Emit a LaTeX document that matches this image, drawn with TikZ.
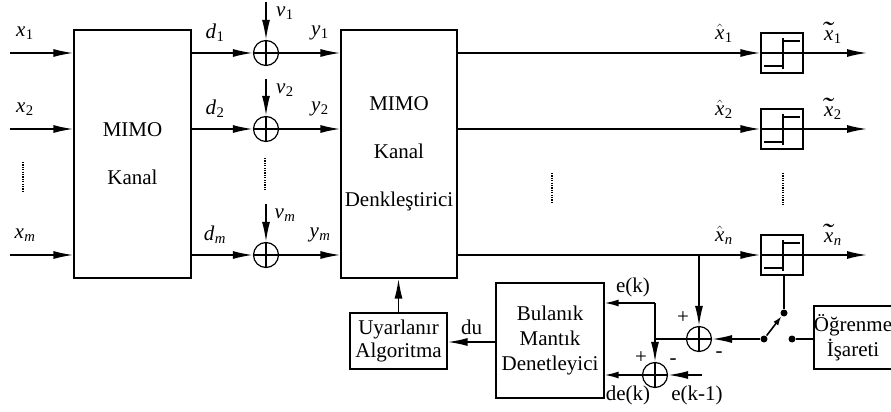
\documentclass[tikz,border=0pt]{standalone}
\usepackage{fontspec}
\setmainfont{Liberation Serif}
\usetikzlibrary{arrows.meta,calc}
\newcommand{\sinyal}[2]{#1\kern0.5pt\textsubscript{#2}}
\newcommand{\sapka}{$\hat{\mbox{\textit{x}}}$}
\newcommand{\dalga}{\textit{x}\llap{\scalebox{1.6}[1.3]{\textit{\char"02DC}}\kern-1pt}}

\begin{document}
\begin{tikzpicture}[x=1pt, y=-1pt, >={Latex[length=20pt,width=8pt]}, line width=1.6pt,
    font=\fontsize{21}{25}\selectfont,
    blok/.style={draw, line width=1.2pt, rectangle, inner sep=0pt, align=center},
    topla/.style={draw, line width=1.2pt, circle, minimum size=25pt, inner sep=0pt,
      path picture={\draw[line width=1.2pt] (path picture bounding box.north) -- (path picture bounding box.south)
        (path picture bounding box.west) -- (path picture bounding box.east);}},
    esik/.style={draw, line width=1.2pt, minimum width=42pt, minimum height=40pt, inner sep=0pt},
    nokta/.style={circle, fill, minimum size=7pt, inner sep=0pt},
    noktali/.style={line width=1.5pt, dash pattern=on 1.2pt off 1.2pt}]
    \useasboundingbox (0,0) rectangle (891,412);

    % MIMO kanal ve denkleştirici
    \node[blok, minimum width=117pt, minimum height=248pt] (kanal) at (132.5,154) {MIMO\\[23pt]Kanal};
    \node[blok, minimum width=116pt, minimum height=248pt] (denk) at (399,154) {MIMO\\[23pt]Kanal\\[23pt]Denkleştirici};

    % kanal girişleri, gürültü toplayıcıları ve eşik blokları
    \foreach \i/\y/\k/\n/\vy in {1/53/1/1/2, 2/129/2/2/79, 3/255/{\textit{m}}/{\textit{n}}/204} {
        \coordinate (g\i) at (10,\y);
        \coordinate (v\i) at (266,\vy);
        \coordinate (c\i) at (867,\y);
        \node[topla] (a\i) at (266,\y) {};
        \node[esik] (q\i) at (782,\y) {};
        \draw[->] (g\i) -- (g\i -| kanal.west);
        \draw[->] (a\i -| kanal.east) -- (a\i);
        \draw[->] (v\i) -- (a\i);
        \draw[->] (a\i) -- (a\i -| denk.west);
        \draw[->] (denk.east |- q\i) -- (q\i);
        \draw[->] (q\i) -- (c\i);
        % eşik fonksiyonu
        \draw[line width=1.2pt, shift={(q\i.center)}] (-21,0) -- (21,0)
            (1,16) -- (1,-15) (-18,13) -- (1,13) (1,-12) -- (18,-12);
        \node at (25,\y-20) {\sinyal{\textit{x}}{\k}};
        \node at (215,\y-20) {\sinyal{\textit{d}}{\k}};
        \node at (320,\y-20) {\sinyal{\textit{y}}{\k}};
        \node at (285,\vy+11) {\sinyal{\textit{v}}{\k}};
        \node at (724,\y-20) {\sinyal{\sapka}{\n}};
        \node at (833,\y-20) {\sinyal{\dalga}{\n}};
    }

    % noktalar
    \draw[noktali] (23,162) -- (23,193);
    \draw[noktali] (265,158) -- (265,190);
    \draw[noktali] (552,173) -- (552,204);
    \draw[noktali] (783,173) -- (783,205);

    % uyarlama döngüsü
    \node[blok, minimum width=97pt, minimum height=56pt] (uyar) at (398.5,341) {Uyarlanır\\[-2pt]Algoritma};
    \node[blok, minimum width=108pt, minimum height=115pt] (bulanik) at (550,340.5) {Bulanık\\Mantık\\Denetleyici};
    \node[blok, minimum width=76pt, minimum height=63pt] (ogren) at (853,337.5) {Öğrenme\\İşareti};
    \node[topla] (t1) at (699,339) {};
    \node[topla] (t2) at (655,375) {};
    \node[nokta] (s1) at (784,313) {};
    \node[nokta] (s2) at (764,339) {};
    \node[nokta] (s3) at (792,339) {};
    \coordinate (ek) at (655,303);
    \coordinate (ekm) at (702,375);

    \draw[->] (uyar.north) -- (uyar.north |- denk.south);
    \draw[->] (bulanik.west |- 0,342) -- (uyar.east |- 0,342) node[midway, above=3pt] {du};
    \draw[->] (t1 |- q3) -- (t1);
    \draw (s1 |- q3.south) -- (s1);
    \draw[-{Latex[length=9pt,width=6pt]}] (s2) -- (s1);
    \draw (s3) -- (s3 -| ogren.west);
    \draw[->] (s2) -- (t1);
    \draw (t1) -- (t1 -| t2);
    \draw[-{Latex[length=14pt,width=7pt]}] (ek) -- (ek -| bulanik.east);
    \draw[->] (ek) -- (t2);
    \draw[->] (ekm) -- (t2);
    \draw[-{Latex[length=14pt,width=7pt]}] (t2) -- (t2 -| bulanik.east);

    % etiketler
    \node at (633,287) {e(k)};
    \node at (628,395) {de(k)};
    \node at (697,395) {e(k-1)};
    \node at (683,318) {+};
    \node at (719,355) {-};
    \node at (641,358) {+};
    \node at (673,362) {-};
\end{tikzpicture}
\end{document}
